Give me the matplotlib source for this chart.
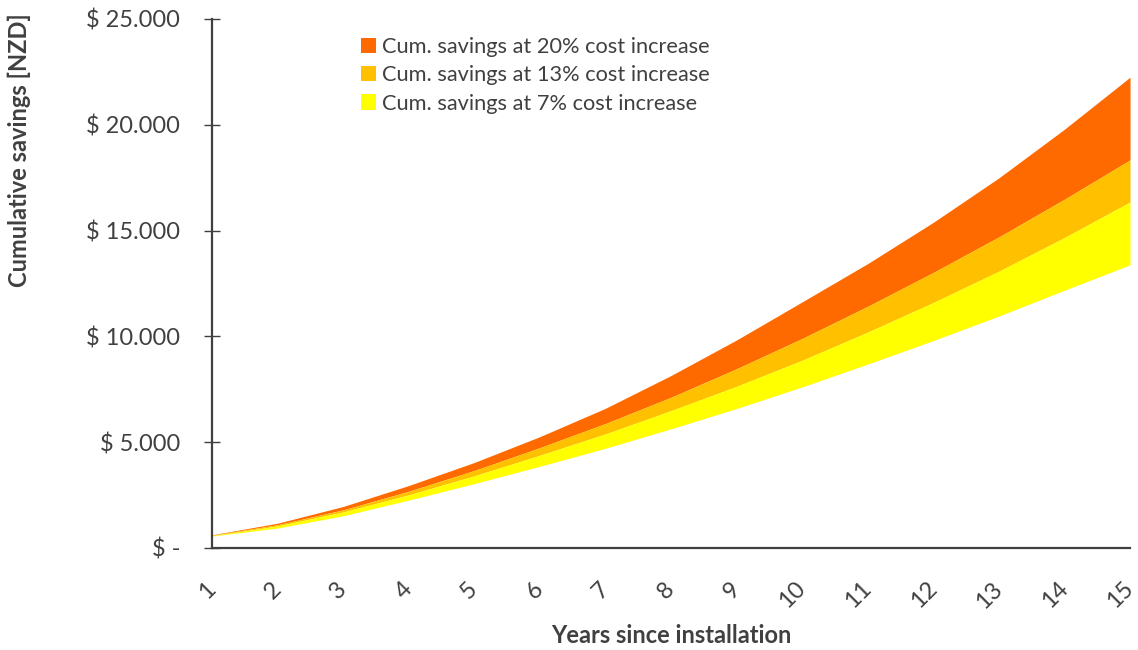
import matplotlib.pyplot as plt
from matplotlib.ticker import FuncFormatter

plt.rcParams['font.family'] = ['Lato', 'DejaVu Sans']

# cumulative savings per year since installation (NZD)
years = list(range(1, 16))
lower_bound = [560, 940, 1520, 2260, 3040, 3860, 4710, 5630, 6590, 7610, 8690, 9800, 10960, 12180, 13380]
savings_7 = [580, 1040, 1700, 2510, 3410, 4380, 5390, 6490, 7640, 8870, 10200, 11600, 13080, 14670, 16350]
savings_13 = [600, 1100, 1800, 2680, 3660, 4740, 5880, 7120, 8470, 9900, 11420, 13020, 14700, 16480, 18340]
savings_20 = [620, 1170, 1960, 2950, 4040, 5260, 6600, 8150, 9830, 11630, 13440, 15390, 17490, 19790, 22250]

labels = ["Cum. savings at 20% cost increase",
          "Cum. savings at 13% cost increase",
          "Cum. savings at 7% cost increase"]
colors = ["#FF6A00", "#FFC000", "#FFFF00"]
text_color = "#404040"

fig = plt.figure(figsize=(11.38, 6.5), dpi=100)
ax = fig.add_axes([0.1863, 0.157, 0.8067, 0.8138])

ax.fill_between(years, savings_13, savings_20, color=colors[0], lw=0, label=labels[0])
ax.fill_between(years, savings_7, savings_13, color=colors[1], lw=0, label=labels[1])
ax.fill_between(years, lower_bound, savings_7, color=colors[2], lw=0, label=labels[2])

ax.set_xlim(1, 15)
ax.set_ylim(0, 25000)
ax.set_xticks(years)
ax.set_yticks(range(0, 25001, 5000))


def money(v, pos):
    if v == 0:
        return "$ -"
    return "$ " + f"{int(v):,}".replace(",", ".")


ax.yaxis.set_major_formatter(FuncFormatter(money))

for side in ["top", "right"]:
    ax.spines[side].set_visible(False)
for side in ["left", "bottom"]:
    ax.spines[side].set_color(text_color)
    ax.spines[side].set_linewidth(1.6)

ax.tick_params(axis="y", direction="inout", length=12, width=1, color=text_color,
               labelcolor=text_color, labelsize=17, pad=17)
ax.tick_params(axis="x", length=0, labelcolor=text_color, labelsize=17, pad=27)
for lab in ax.get_xticklabels():
    lab.set_rotation(45)
    lab.set_rotation_mode("anchor")
    lab.set_ha("right")
    lab.set_va("center")

ax.set_xlabel("Years since installation", fontsize=17, fontweight="bold", color=text_color)
ax.set_ylabel("Cumulative savings [NZD]", fontsize=17, fontweight="bold", color=text_color)
ax.yaxis.set_label_coords(-0.197, 0.752)
ax.xaxis.set_label_coords(0.5, -0.143)

ax.legend(loc="upper left", bbox_to_anchor=(0.141, 1.003), frameon=False, fontsize=15.7,
          handlelength=0.7, handleheight=0.7, handletextpad=0.25, labelspacing=0.38,
          labelcolor=text_color)

fig.savefig("out.png", dpi=100)
